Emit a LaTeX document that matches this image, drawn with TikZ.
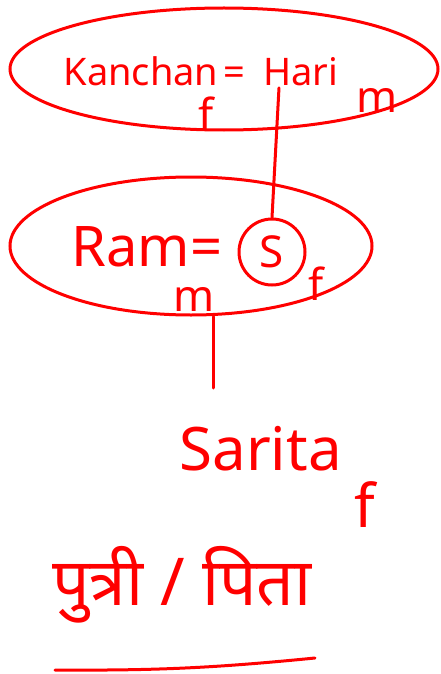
\documentclass[tikz,border=0pt]{standalone}
\usepackage{fontspec}
\setmainfont{Noto Sans}
\newfontfamily\devfont[Script=Devanagari]{Noto Sans}
\usetikzlibrary{shapes.geometric, positioning}

\begin{document}
\begin{tikzpicture}[
    x=0.5pt, y=-0.5pt,
    red, line width=1.5pt, line cap=round,
    fam/.style={draw, ellipse, inner sep=0pt},
    person/.style={inner sep=0pt, anchor=base west, font=\fontsize{19}{23}\selectfont},
    sex/.style={inner sep=0pt, font=\fontsize{22}{26}\selectfont},
    spouse/.style={draw, circle, minimum size=33pt, inner sep=0pt, font=\fontsize{22}{26}\selectfont}
]
\useasboundingbox (0,0) rectangle (440,674);

% parents
\node[fam, minimum width=214pt, minimum height=61pt] (topfam) at (224,69) {};
\node[person] (kanchan) at (62,86) {Kanchan};
\node[person] (eqtop) at (222,86) {=};
\node[person] (hari) at (262,86) {Hari};
\node[sex] (fkanchan) at (206,114) {f};
\node[sex] (mhari) at (377,100) {m};

% son and his wife
\node[fam, minimum width=181pt, minimum height=69pt] (ramfam) at (191,246) {};
\node[person, font=\fontsize{28}{32}\selectfont] (ram) at (70,266) {Ram=};
\node[spouse] (s) at (272,252) {S};
\node[sex] (mram) at (194,299) {m};
\node[sex] (fs) at (316,284) {f};

\draw ([xshift=-11pt]hari.south) -- (s.north);

% daughter
\coordinate (drop) at (213,388);
\draw (drop |- ramfam.south) -- (drop);
\node[person, font=\fontsize{30}{34}\selectfont] (sarita) at (178,470) {Sarita};
\node[sex, font=\fontsize{30}{34}\selectfont] (fsarita) at (365,505) {f};

\node[inner sep=0pt, font=\devfont\fontsize{33}{38}\selectfont] (relation) at (182,585) {पुत्री / पिता};
\draw (55,670) to[bend right=3] (315,658);

\end{tikzpicture}
\end{document}
